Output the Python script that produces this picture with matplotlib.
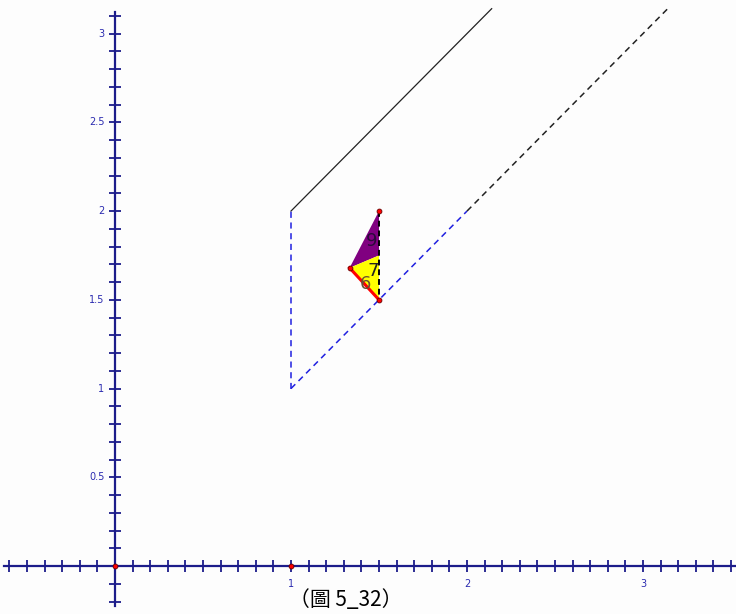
import matplotlib.pyplot as plt
import numpy as np

plt.rcParams['font.family'] = ['Noto Sans CJK TC', 'DejaVu Sans']

# region outline: solid edge y = x + 1, dashed edge y = x, dashed vertical x = 1
solid_x = [1.0, 2.14]
solid_y = [2.0, 3.14]
blue_vert_x = [1.0, 1.0]
blue_vert_y = [1.0, 2.0]
blue_diag_x = [1.0, 2.0]
blue_diag_y = [1.0, 2.0]
black_diag_x = [2.0, 3.14]
black_diag_y = [2.0, 3.14]

# triangle pieces
top_pt = (1.5, 2.0)
left_pt = (1.333, 1.68)
mid_pt = (1.5, 1.75)
bot_pt = (1.5, 1.5)

region_labels = ['9', '7', '6']
label_x = [1.46, 1.465, 1.422]
label_y = [1.83, 1.665, 1.59]
label_colors = ['#2a0a3a', '#222222', '#6a5030']

x_ticks = [1, 2, 3]
y_ticks = [0.5, 1, 1.5, 2, 2.5, 3]
y_tick_text = ['0.5', '1', '1.5', '2', '2.5', '3']

fig = plt.figure(figsize=(7.36, 6.14), dpi=100)
fig.patch.set_facecolor('#fdfdfd')
ax = fig.add_axes([0, 0, 1, 1])
ax.set_facecolor('#fdfdfd')
ax.set_xlim(-0.653, 3.528)
ax.set_ylim(-0.27, 3.189)
ax.axis('off')

axis_col = '#1c1c8a'
# axes lines
ax.plot([-0.63, 3.53], [0, 0], color=axis_col, lw=1.6, zorder=2)
ax.plot([0, 0], [-0.225, 3.12], color=axis_col, lw=1.6, zorder=2)
# minor ticks every 0.1
xt = np.round(np.arange(-0.6, 3.55, 0.1), 2)
yt = np.round(np.arange(-0.2, 3.15, 0.1), 2)
ax.plot(xt, np.zeros_like(xt), ls='none', marker='|', ms=9, mew=1.3,
        color=axis_col, zorder=2)
ax.plot(np.zeros_like(yt), yt, ls='none', marker='_', ms=9, mew=1.3,
        color=axis_col, zorder=2)
for v in x_ticks:
    ax.text(v, -0.1, str(v), ha='center', va='center', fontsize=7,
            color='#2b2bb0', family='DejaVu Sans')
for v, t in zip(y_ticks, y_tick_text):
    ax.text(-0.06, v, t, ha='right', va='center', fontsize=7,
            color='#2b2bb0', family='DejaVu Sans')

# region boundary
ax.plot(solid_x, solid_y, color='#222222', lw=0.9, zorder=3)
ax.plot(blue_vert_x, blue_vert_y, color='#2020e0', lw=1.1,
        dashes=(4, 3), zorder=3)
ax.plot(blue_diag_x, blue_diag_y, color='#2020e0', lw=1.1,
        dashes=(4, 3), zorder=3)
ax.plot(black_diag_x, black_diag_y, color='#222222', lw=1.1,
        dashes=(4, 3), zorder=3)

# triangle fills
ax.fill([top_pt[0], left_pt[0], mid_pt[0]], [top_pt[1], left_pt[1], mid_pt[1]],
        color='#800080', lw=0, zorder=4)
ax.fill([left_pt[0], mid_pt[0], bot_pt[0]], [left_pt[1], mid_pt[1], bot_pt[1]],
        color='#ffff00', lw=0, zorder=4)
ax.plot([top_pt[0], bot_pt[0]], [top_pt[1], bot_pt[1]], color='black',
        lw=1.4, dashes=(3, 2), zorder=5)
ax.plot([left_pt[0], bot_pt[0]], [left_pt[1], bot_pt[1]], color='#ff0000',
        lw=2.2, zorder=5)
for t, x, y, c in zip(region_labels, label_x, label_y, label_colors):
    ax.text(x, y, t, ha='center', va='center', fontsize=13, color=c,
            family='DejaVu Sans', zorder=6)

# points
pts_x = [top_pt[0], left_pt[0], bot_pt[0], 0, 1]
pts_y = [top_pt[1], left_pt[1], bot_pt[1], 0, 0]
ax.plot(pts_x, pts_y, ls='none', marker='o', ms=3.5, mfc='#ff0000',
        mec='#660000', mew=0.6, zorder=7)

ax.text(1.31, -0.19, '（圖 5_32）', ha='center', va='center', fontsize=15,
        color='black', family=['Noto Sans CJK TC', 'DejaVu Sans'], zorder=8)

fig.savefig('out.png', dpi=100, facecolor=fig.get_facecolor())
